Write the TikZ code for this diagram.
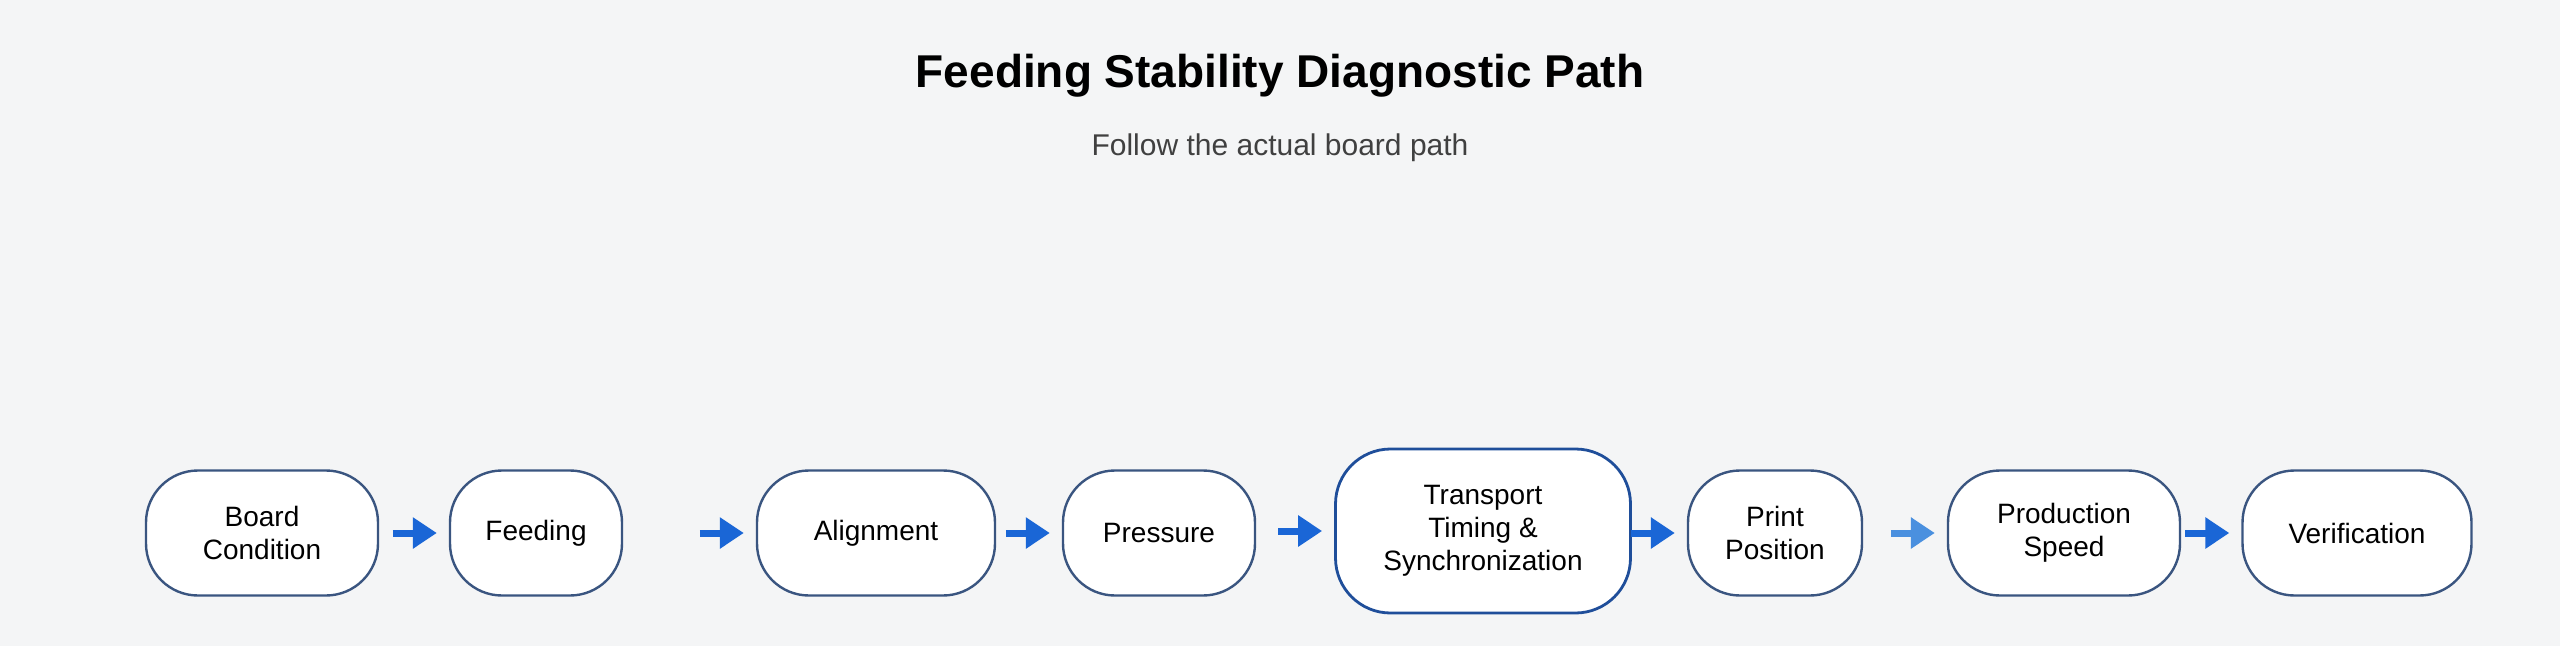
\documentclass[tikz,border=0pt]{standalone}
\usepackage{fontspec}
\setmainfont{Liberation Sans}
\usetikzlibrary{arrows.meta}
\definecolor{bg}{HTML}{F4F5F6}
\definecolor{edge}{HTML}{3A5580}
\definecolor{edgeb}{HTML}{1F4E9A}
\definecolor{arr}{HTML}{1A66D6}
\definecolor{arrl}{HTML}{4A90DF}
\begin{document}
\begin{tikzpicture}[x=1pt,y=-1pt,
  box/.style={draw=edge,line width=2.4pt,fill=white,rounded corners=52pt,minimum height=125pt,align=center,font=\fontsize{28}{33}\selectfont,inner sep=0pt},
  con/.style={-{Triangle[length=24pt,width=30pt]},line width=7pt,draw=arr,shorten >=12pt}]
\fill[bg] (0,0) rectangle (2560,646);
\useasboundingbox (0,0) rectangle (2560,646);
\node[font=\bfseries\fontsize{46}{52}\selectfont] (t) at (1280,76) {Feeding Stability Diagnostic Path};
\node[font=\fontsize{30}{34}\selectfont,text=black!75] (s) at (1280,148) {Follow the actual board path};
\node[box,minimum width=232pt] (n1) at (262,533) {Board\\Condition};
\node[box,minimum width=172pt] (n2) at (536,533) {Feeding};
\node[box,minimum width=238pt] (n3) at (876,533) {Alignment};
\node[box,minimum width=192pt] (n4) at (1159,533) {Pressure};
\node[box,minimum width=295pt,minimum height=164pt,draw=edgeb,line width=2.8pt,rounded corners=55pt] (n5) at (1483,531) {Transport\\Timing \&\\Synchronization};
\node[box,minimum width=174pt] (n6) at (1775,533) {Print\\Position};
\node[box,minimum width=232pt] (n7) at (2064,533) {Production\\Speed};
\node[box,minimum width=229pt] (n8) at (2357,533) {Verification};
\foreach \a/\b in {n1/n2,n2/n3,n3/n4,n4/n5,n5/n6,n7/n8}
  \draw[con] ([xshift=-56pt]\b.west) -- (\b.west);
\draw[con,draw=arrl] ([xshift=-56pt]n7.west) -- (n7.west);
\end{tikzpicture}
\end{document}
